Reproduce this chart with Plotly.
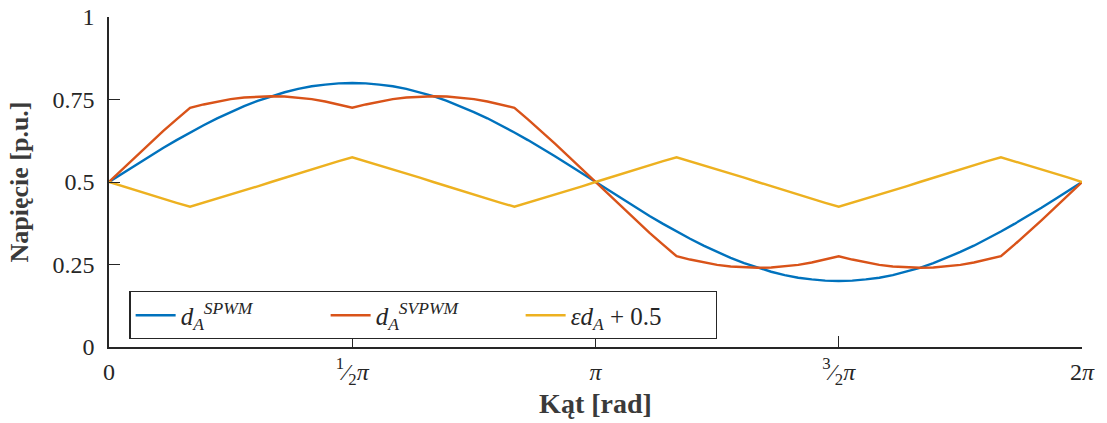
import plotly.graph_objects as go

# Angle grid (degrees), 0..360 step 5
angle_deg = list(range(0, 361, 5))

# Values (per unit)
d_spwm = [0.500, 0.526, 0.552, 0.578, 0.603, 0.627, 0.650, 0.672, 0.693, 0.712,
          0.730, 0.746, 0.760, 0.772, 0.782, 0.790, 0.795, 0.799, 0.800,
          0.799, 0.795, 0.790, 0.782, 0.772, 0.760, 0.746, 0.730, 0.712,
          0.693, 0.672, 0.650, 0.627, 0.603, 0.578, 0.552, 0.526, 0.500,
          0.474, 0.448, 0.422, 0.397, 0.373, 0.350, 0.328, 0.307, 0.288,
          0.270, 0.254, 0.240, 0.228, 0.218, 0.210, 0.205, 0.201, 0.200,
          0.201, 0.205, 0.210, 0.218, 0.228, 0.240, 0.254, 0.270, 0.288,
          0.307, 0.328, 0.350, 0.373, 0.397, 0.422, 0.448, 0.474, 0.500]

d_svpwm = [0.500, 0.539, 0.578, 0.616, 0.654, 0.690, 0.725, 0.735, 0.744, 0.751,
           0.756, 0.759, 0.760, 0.759, 0.756, 0.751, 0.744, 0.735, 0.725,
           0.735, 0.744, 0.751, 0.756, 0.759, 0.760, 0.759, 0.756, 0.751,
           0.744, 0.735, 0.725, 0.690, 0.654, 0.616, 0.578, 0.539, 0.500,
           0.461, 0.422, 0.384, 0.346, 0.310, 0.275, 0.265, 0.256, 0.249,
           0.244, 0.241, 0.240, 0.241, 0.244, 0.249, 0.256, 0.265, 0.275,
           0.265, 0.256, 0.249, 0.244, 0.241, 0.240, 0.241, 0.244, 0.249,
           0.256, 0.265, 0.275, 0.310, 0.346, 0.384, 0.422, 0.461, 0.500]

eps_da = [0.500, 0.487, 0.474, 0.461, 0.449, 0.437, 0.425, 0.437, 0.449, 0.461,
          0.474, 0.487, 0.500, 0.513, 0.526, 0.539, 0.551, 0.563, 0.575,
          0.563, 0.551, 0.539, 0.526, 0.513, 0.500, 0.487, 0.474, 0.461,
          0.449, 0.437, 0.425, 0.437, 0.449, 0.461, 0.474, 0.487, 0.500,
          0.513, 0.526, 0.539, 0.551, 0.563, 0.575, 0.563, 0.551, 0.539,
          0.526, 0.513, 0.500, 0.487, 0.474, 0.461, 0.449, 0.437, 0.425,
          0.437, 0.449, 0.461, 0.474, 0.487, 0.500, 0.513, 0.526, 0.539,
          0.551, 0.563, 0.575, 0.563, 0.551, 0.539, 0.526, 0.513, 0.500]

x_tickvals = [0, 90, 180, 270, 360]
x_ticktext = ["0", "<sup>1</sup>⁄<sub>2</sub><i>π</i>", "<i>π</i>",
              "<sup>3</sup>⁄<sub>2</sub><i>π</i>", "2<i>π</i>"]
y_tickvals = [0, 0.25, 0.5, 0.75, 1]
y_ticktext = ["0", "0.25", "0.5", "0.75", "1"]

names = ["<i>d</i><sub><i>A</i></sub><sup><i>SPWM</i></sup>",
         "<i>d</i><sub><i>A</i></sub><sup><i>SVPWM</i></sup>",
         "<i>εd</i><sub><i>A</i></sub> + 0.5"]
colors = ["#0072BD", "#D95319", "#EDB120"]
series = [d_spwm, d_svpwm, eps_da]

fig = go.Figure()
for ys, nm, c in zip(series, names, colors):
    fig.add_trace(go.Scatter(x=angle_deg, y=ys, mode="lines", name=nm,
                             line=dict(color=c, width=2.4)))

axis_color = "#262626"
serif = "Liberation Serif"
fig.update_layout(
    width=1107, height=423,
    margin=dict(l=109, r=25, t=17, b=76, autoexpand=False),
    paper_bgcolor="white", plot_bgcolor="white",
    font=dict(family=serif, size=24, color=axis_color),
    showlegend=True,
    legend=dict(orientation="h", x=0.021, y=0.169, xanchor="left", yanchor="top",
                bordercolor=axis_color, borderwidth=1.2, bgcolor="white",
                font=dict(family=serif, size=25, color=axis_color),
                entrywidth=140, entrywidthmode="pixels",
                tracegroupgap=0, itemwidth=40),
)
fig.update_xaxes(range=[0, 360], tickvals=x_tickvals, ticktext=x_ticktext,
                 automargin=False,
                 showgrid=False, zeroline=False, showline=True, linecolor=axis_color,
                 linewidth=1.5, ticks="inside", ticklen=11, tickwidth=1.3,
                 tickcolor=axis_color, ticklabelstandoff=2,
                 tickfont=dict(family=serif, size=24, color=axis_color),
                 title=dict(text="Kąt [rad]", standoff=6,
                            font=dict(family=serif, size=28, color="#3a3a3a",
                                      weight="bold")))
fig.update_yaxes(range=[0, 1], tickvals=y_tickvals, ticktext=y_ticktext,
                 automargin=False,
                 showgrid=False, zeroline=False, showline=True, linecolor=axis_color,
                 linewidth=1.5, ticks="inside", ticklen=11, tickwidth=1.3,
                 tickcolor=axis_color, ticklabelstandoff=8,
                 tickfont=dict(family=serif, size=24, color=axis_color),
                 title=dict(text="Napięcie [p.u.]", standoff=16,
                            font=dict(family=serif, size=26, color="#3a3a3a",
                                      weight="bold")))

fig.write_html("out.html", config={"displayModeBar": False},
               post_script="document.body.style.margin='0';")
